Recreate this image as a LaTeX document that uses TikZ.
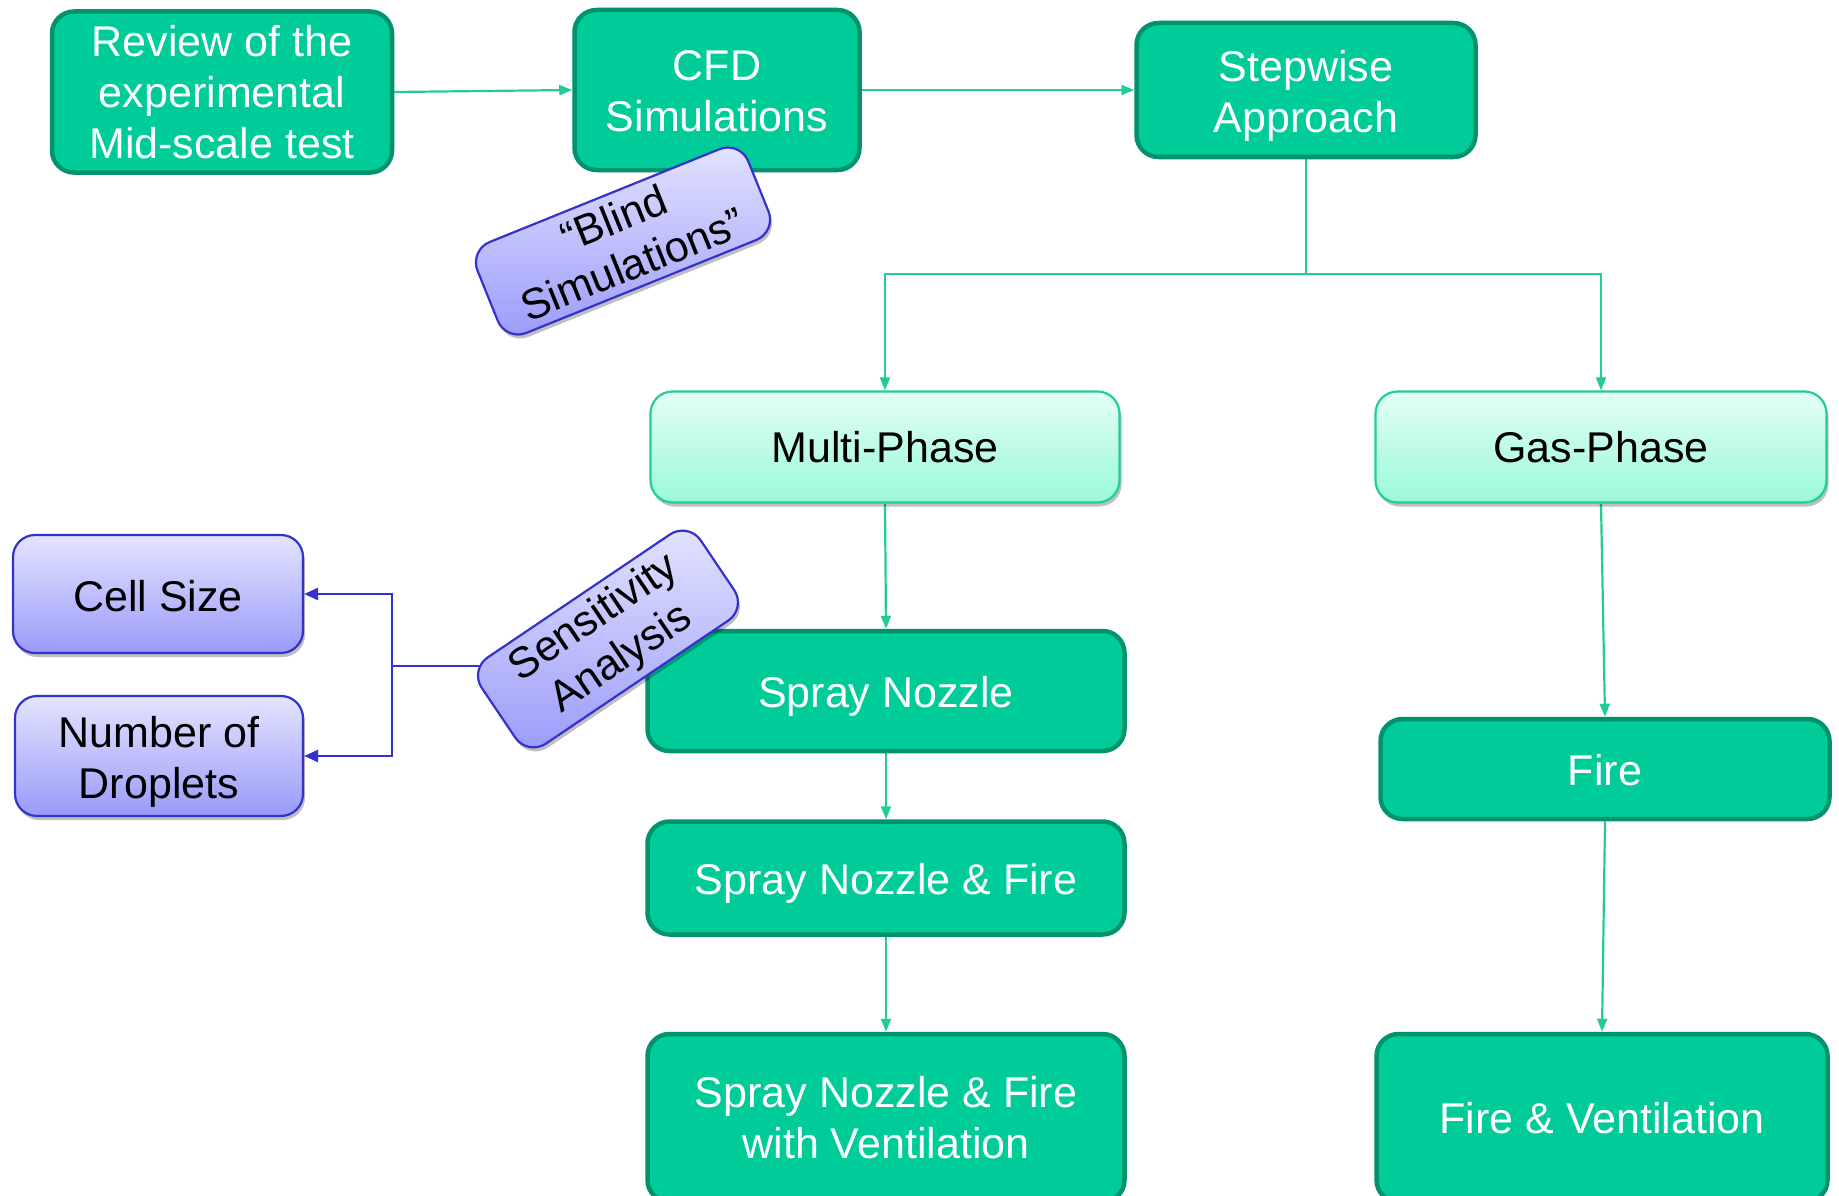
\documentclass[tikz,border=0pt]{standalone}
\usepackage{fontspec}
\setmainfont{Liberation Sans}
\usetikzlibrary{arrows.meta,shadows,calc,backgrounds}
\definecolor{dkfill}{HTML}{00CC99}
\definecolor{dkborder}{HTML}{00936E}
\definecolor{ltop}{HTML}{E4FFF6}
\definecolor{lbot}{HTML}{99F9D8}
\definecolor{lborder}{HTML}{22CC9C}
\definecolor{btop}{HTML}{E4E4FF}
\definecolor{bbot}{HTML}{9A9AFA}
\definecolor{bborder}{HTML}{3333CC}
\definecolor{lncol}{HTML}{22CC98}
\newcommand\dn[2]{\raisebox{-#1}[\height][\depth]{\begin{tabular}{@{}c@{}}#2\end{tabular}}}
\tikzset{
  base/.style={rounded corners=22pt, inner sep=0pt, align=center, font=\fontsize{43}{51}\selectfont},
  dark/.style={base, fill=dkfill, draw=dkborder, line width=4.5pt, text=white},
  light/.style={base, top color=ltop, bottom color=lbot, draw=lborder, line width=2.2pt, text=black,
    drop shadow={shadow xshift=2pt, shadow yshift=-4pt, opacity=0.25, fill=black}},
  bbox/.style={base, top color=btop, bottom color=bbot, draw=bborder, line width=2.2pt, text=black,
    drop shadow={shadow xshift=2pt, shadow yshift=-4pt, opacity=0.25, fill=black}},
  garr/.style={draw=lncol, line width=2.2pt, -{Triangle[length=13pt,width=10pt]}},
  gln/.style={draw=lncol, line width=2.2pt},
  bln/.style={draw=bborder, line width=2.4pt},
  barr/.style={bln, -{Triangle[length=14pt,width=12pt]}},
}
\begin{document}
\begin{tikzpicture}[x=1pt,y=-1pt]
\begin{pgfonlayer}{background}
\fill[white] (0,0) rectangle (1839,1196);
\end{pgfonlayer}
\useasboundingbox (0,0) rectangle (1839,1196);

% top row
\node[dark, minimum width=340pt, minimum height=161pt] (review) at (222,92) {Review of the\\experimental\\Mid-scale test};
\node[dark, minimum width=285pt, minimum height=160pt] (cfd) at (717,90) {\dn{6pt}{CFD\\Simulations}};
\node[dark, minimum width=339pt, minimum height=134pt] (stepw) at (1306,90) {\dn{7pt}{Stepwise\\Approach}};

% phases
\node[light, minimum width=469pt, minimum height=111pt] (multi) at (885,447) {Multi-Phase};
\node[light, minimum width=451pt, minimum height=111pt] (gas) at (1601,447) {Gas-Phase};

% left chain
\node[dark, minimum width=477pt, minimum height=120pt] (spray) at (886,691) {\dn{6pt}{Spray Nozzle}};
\node[dark, minimum width=477pt, minimum height=113pt] (sprayfire) at (886,878) {\dn{6pt}{Spray Nozzle \& Fire}};
\node[dark, minimum width=477pt, minimum height=168pt] (sfv) at (886,1118) {Spray Nozzle \& Fire\\with Ventilation};

% right chain
\node[dark, minimum width=449pt, minimum height=100pt] (fire) at (1605,769) {\dn{6pt}{Fire}};
\node[dark, minimum width=451pt, minimum height=168pt] (firevent) at (1602,1118) {Fire \& Ventilation};

% sensitivity targets
\node[bbox, minimum width=290pt, minimum height=118pt] (cell) at (158,594) {\dn{7pt}{Cell Size}};
\node[bbox, minimum width=288pt, minimum height=120pt] (drop) at (159,756) {\dn{7pt}{Number of\\Droplets}};

% rotated labels
\node[bbox, rotate=22, minimum width=292pt, minimum height=98pt, font=\fontsize{43}{49}\selectfont] (blind) at (623,241) {“Blind\\Simulations”};
\node[bbox, rotate=34, minimum width=264pt, minimum height=104pt, font=\fontsize{43}{49}\selectfont] (sens) at (608,639) {Sensitivity\\Analysis};

% connectors
\coordinate (split) at (1306,274);
\coordinate (jx) at (392,0);
\coordinate (sa) at ($(sens.north west)!0.06!(sens.south east)$);
\begin{scope}[on background layer]
\draw[garr] (review.east) -- (cfd.west);
\draw[garr] (cfd.east) -- (stepw.west);
\draw[gln] (stepw.south) -- (split);
\draw[garr] (split) -| (multi.north);
\draw[garr] (split) -| (gas.north);
\draw[garr] (multi.south) -- (spray.north);
\draw[garr] (spray.south) -- (sprayfire.north);
\draw[garr] (sprayfire.south) -- (sfv.north);
\draw[garr] (gas.south) -- (fire.north);
\draw[garr] (fire.south) -- (firevent.north);
\draw[bln] (sa) -- (sa -| jx);
\draw[barr] (sa -| jx) |- (cell.east);
\draw[barr] (sa -| jx) |- (drop.east);
\end{scope}
\end{tikzpicture}
\end{document}
